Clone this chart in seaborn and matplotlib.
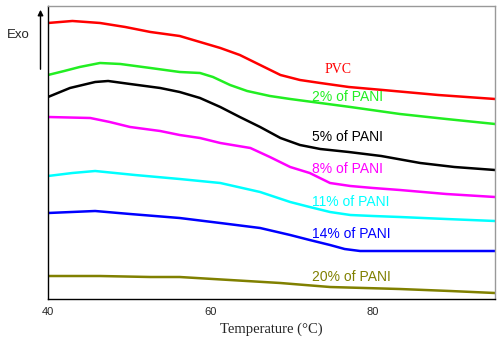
import numpy as np
import pandas as pd
import matplotlib
matplotlib.use("Agg")
import matplotlib.pyplot as plt
import seaborn as sns

# ---------------------------
# Data (temperature in °C, heat flow in arbitrary units, curves offset)
# ---------------------------
pvc_t = [40, 43.0, 46.4, 49.5, 52.6, 56.2, 58.7, 61.2, 63.6, 66.1, 68.6, 71.0, 73.5, 77.0, 81.2, 88.0, 95]
pvc_h = [276, 278, 276, 272, 267, 263, 257, 251, 244, 234, 224, 219, 216, 212, 209, 204, 200]

p2_t = [40, 42.0, 43.9, 46.4, 48.9, 52.6, 56.2, 58.7, 60.3, 62.4, 64.5, 67.3, 69.8, 73.5, 77.2, 83.3, 89.0, 95]
p2_h = [224, 228, 232, 236, 235, 231, 227, 226, 222, 214, 208, 203, 200, 196, 192, 185, 180, 175]

p5_t = [40, 42.7, 45.8, 47.4, 50.1, 53.8, 56.2, 58.7, 61.2, 63.6, 66.1, 68.6, 71.0, 73.5, 77.0, 81.0, 85.8, 90.0, 95]
p5_h = [202, 211, 217, 218, 215, 211, 207, 201, 192, 182, 172, 161, 154, 150, 147, 143, 136, 132, 129]

p8_t = [40, 45.2, 47.6, 50.1, 53.8, 56.2, 58.7, 61.2, 64.9, 67.3, 69.8, 72.2, 74.7, 77.2, 80.0, 83.3, 89.0, 95]
p8_h = [182, 181, 177, 172, 168, 164, 161, 156, 151, 142, 132, 126, 116, 113, 111, 109, 105, 102]

p11_t = [40, 43.0, 45.8, 50.7, 56.2, 61.2, 66.1, 69.8, 72.2, 74.7, 77.2, 80.0, 83.3, 89.0, 95]
p11_h = [123, 126, 128, 124, 120, 116, 107, 97, 92, 87, 84, 83, 82, 80, 78]

p14_t = [40, 45.8, 50.1, 56.2, 61.2, 66.1, 69.8, 72.2, 74.7, 76.5, 78.4, 83.3, 95]
p14_h = [86, 88, 85, 81, 76, 71, 64, 59, 54, 50, 48, 48, 48]

p20_t = [40, 46.4, 52.6, 56.2, 62.4, 68.6, 74.7, 83.3, 89.5, 95]
p20_h = [23, 23, 22, 22, 19, 16, 12, 10, 8, 6]

labels = ["PVC", "2% of PANI", "5% of PANI", "8% of PANI",
          "11% of PANI", "14% of PANI", "20% of PANI"]
colors = ["#ff0000", "#22ee22", "#000000", "#ff00ff",
          "#00ffff", "#0000ff", "#808000"]
label_h = [229, 202, 162, 130, 97, 65, 22]

curves = [(pvc_t, pvc_h), (p2_t, p2_h), (p5_t, p5_h), (p8_t, p8_h),
          (p11_t, p11_h), (p14_t, p14_h), (p20_t, p20_h)]

frames = []
for name, (t, h) in zip(labels, curves):
    frames.append(pd.DataFrame({"T": t, "H": h, "sample": name}))
df = pd.concat(frames, ignore_index=True)

# ---------------------------
# Plot
# ---------------------------
sns.set_style("white")
fig = plt.figure(figsize=(5, 3.42), dpi=100)
ax = fig.add_axes([0.096, 0.1257, 0.894, 0.8568])

sns.lineplot(data=df, x="T", y="H", hue="sample", palette=dict(zip(labels, colors)),
             linewidth=1.8, legend=False, ax=ax, sort=False)

for name, c, y in zip(labels, colors, label_h):
    if name == "PVC":
        ax.text(75.7, y, name, color=c, fontsize=10, ha="center", va="center",
                family="Liberation Serif")
    else:
        ax.text(72.5, y, name, color=c, fontsize=10, ha="left", va="center",
                family="Liberation Sans")

ax.set_xlim(40, 95)
ax.set_ylim(0, 293)
ax.set_xticks([40, 60, 80])
ax.set_xticks([50, 70, 90], minor=True)
ax.set_yticks(np.arange(1, 5) * 58.6)
ax.set_yticklabels([])
ax.tick_params(axis="x", which="both", direction="in", length=4, color="#555555",
               labelsize=8, pad=6)
ax.tick_params(axis="y", direction="in", length=4, color="#888888")
for lbl in ax.get_xticklabels():
    lbl.set_family("Liberation Sans")
ax.set_xlabel("Temperature (°C)", family="Liberation Serif", fontsize=10.5, labelpad=4)
ax.set_ylabel("")

ax.spines["left"].set_color("black")
ax.spines["bottom"].set_color("black")
ax.spines["top"].set_color("#999999")
ax.spines["right"].set_color("#999999")
for s in ax.spines.values():
    s.set_linewidth(1.0)

# Exo arrow outside the axes
ax.annotate("", xy=(40.5 / 500, 1 - 7 / 342), xytext=(40.5 / 500, 1 - 72 / 342),
            xycoords="figure fraction", textcoords="figure fraction",
            arrowprops=dict(arrowstyle="-|>", color="black", lw=1.0, mutation_scale=8))
fig.text(18 / 500, 1 - 35 / 342, "Exo", ha="center", va="center", fontsize=9.5,
         family="Liberation Sans")

fig.savefig("out.png", dpi=100)
